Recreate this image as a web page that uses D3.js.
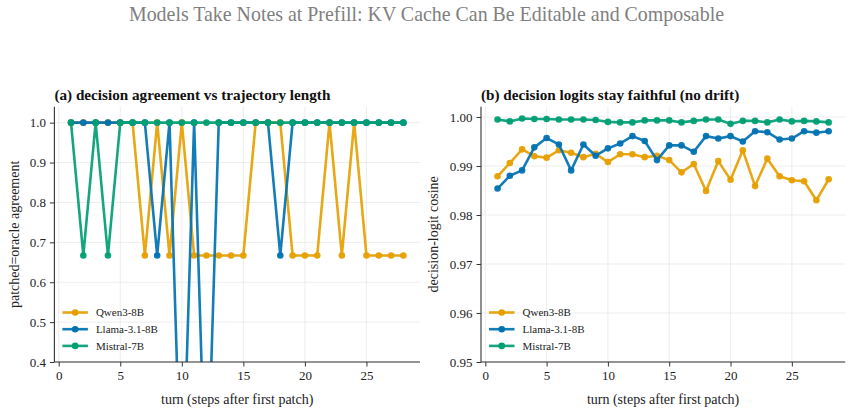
<!DOCTYPE html>
<html>
<head>
<meta charset="utf-8">
<script src="https://cdn.jsdelivr.net/npm/d3@7"></script>
<style>
  body { margin: 0; background: #fff; }
  svg, svg text { font-family: "Liberation Serif", "DejaVu Serif", serif; }
  .tick text { fill: #222; }
</style>
</head>
<body>
<script>
// turns after the first patch
const turns = [1,2,3,4,5,6,7,8,9,10,11,12,13,14,15,16,17,18,19,20,21,22,23,24,25,26,27,28];
const models = ["Qwen3-8B", "Llama-3.1-8B", "Mistral-7B"];
const colors = ["#E69F00", "#0072B2", "#009E73"];

// (a) patched = oracle agreement
const agreeQwen    = [1,1,1,1,1,1,0.667,1,0.667,1,0.667,0.667,0.667,0.667,0.667,1,1,1,0.667,0.667,0.667,1,0.667,1,0.667,0.667,0.667,0.667];
const agreeLlama   = [1,1,1,1,1,1,1,0.667,1,0,1,0,1,1,1,1,1,0.667,1,1,1,1,1,1,1,1,1,1];
const agreeMistral = [1,0.667,1,0.667,1,1,1,1,1,1,1,1,1,1,1,1,1,1,1,1,1,1,1,1,1,1,1,1];

// (b) decision-logit cosine
const cosQwen    = [0.9879,0.9906,0.9934,0.9920,0.9917,0.9932,0.9927,0.9918,0.9925,0.9908,0.9924,0.9924,0.9918,0.9921,0.9912,0.9887,0.9904,0.9849,0.9910,0.9872,0.9932,0.9859,0.9915,0.9879,0.9871,0.9869,0.9830,0.9873];
const cosLlama   = [0.9854,0.9880,0.9891,0.9938,0.9957,0.9944,0.9891,0.9944,0.9921,0.9936,0.9946,0.9961,0.9951,0.9912,0.9942,0.9942,0.9929,0.9961,0.9956,0.9961,0.9950,0.9971,0.9969,0.9954,0.9956,0.9971,0.9968,0.9971];
const cosMistral = [0.9995,0.9991,0.9997,0.9996,0.9996,0.9995,0.9995,0.9995,0.9994,0.9990,0.9989,0.9989,0.9993,0.9993,0.9993,0.9989,0.9992,0.9995,0.9995,0.9986,0.9992,0.9992,0.9989,0.9995,0.9991,0.9992,0.9991,0.9989];

const xTicks = [0,5,10,15,20,25];
const agreeTicks = [0.4,0.5,0.6,0.7,0.8,0.9,1.0];
const cosTicks = [0.95,0.96,0.97,0.98,0.99,1.00];

const serif = "'Liberation Serif', 'DejaVu Serif', serif";
const width = 853, height = 413;
const svg = d3.select("body").append("svg")
    .attr("width", width)
    .attr("height", height);

svg.append("text")
    .attr("x", 426.5)
    .attr("y", 21)
    .attr("text-anchor", "middle")
    .style("font-family", serif)
    .style("font-size", "19.9px")
    .attr("fill", "#808080")
    .text("Models Take Notes at Prefill: KV Cache Can Be Editable and Composable");

function drawPanel(opts) {
    const { left, right, top, bottom, yDomain, yTicks, yFmt, series, title, ylabel, ylabelX, id } = opts;
    const x = d3.scaleLinear().domain([-0.35, 29.35]).range([left, right]);
    const y = d3.scaleLinear().domain(yDomain).range([bottom, top]);
    const g = svg.append("g");

    // grid
    g.append("g").selectAll("line").data(xTicks).join("line")
        .attr("x1", d => x(d)).attr("x2", d => x(d))
        .attr("y1", top).attr("y2", bottom)
        .attr("stroke", "#e8e8e8").attr("stroke-width", 0.8);
    g.append("g").selectAll("line").data(yTicks).join("line")
        .attr("x1", left).attr("x2", right)
        .attr("y1", d => y(d)).attr("y2", d => y(d))
        .attr("stroke", "#e8e8e8").attr("stroke-width", 0.8);

    svg.append("clipPath").attr("id", id)
        .append("rect").attr("x", left).attr("y", top - 4)
        .attr("width", right - left).attr("height", bottom - top + 4);

    const plot = g.append("g").attr("clip-path", `url(#${id})`);
    const line = d3.line().x((d, i) => x(turns[i])).y(d => y(d));

    series.forEach((vals, k) => {
        plot.append("path")
            .datum(vals)
            .attr("fill", "none")
            .attr("stroke", colors[k])
            .attr("stroke-width", 2.6)
            .attr("stroke-linejoin", "round")
            .attr("opacity", 0.92)
            .attr("d", line);
        plot.append("g").selectAll("circle").data(vals).join("circle")
            .attr("cx", (d, i) => x(turns[i]))
            .attr("cy", d => y(d))
            .attr("r", 3.3)
            .attr("fill", colors[k])
            .attr("opacity", 0.95);
    });

    // axes
    const xa = g.append("g")
        .attr("transform", `translate(0,${bottom})`)
        .call(d3.axisBottom(x).tickValues(xTicks).tickSize(4.5).tickPadding(4).tickFormat(d3.format("d")));
    const ya = g.append("g")
        .attr("transform", `translate(${left},0)`)
        .call(d3.axisLeft(y).tickValues(yTicks).tickSize(4.5).tickPadding(4).tickFormat(d3.format(yFmt)));
    [xa, ya].forEach(a => {
        a.attr("font-family", serif);
        a.select(".domain").attr("stroke", "#333").attr("stroke-width", 1.1);
        a.selectAll(".tick line").attr("stroke", "#333").attr("stroke-width", 1);
        a.selectAll(".tick text").style("font-size", "13px").style("font-family", serif);
    });
    ya.select(".domain").attr("d", `M0,${bottom}V${top}`);
    xa.select(".domain").attr("d", `M${left},0H${right}`);

    g.append("text")
        .attr("x", left)
        .attr("y", 100)
        .style("font-family", serif)
        .style("font-size", "15.2px")
        .style("font-weight", "bold")
        .attr("fill", "#111")
        .text(title);

    g.append("text")
        .attr("x", (left + right) / 2)
        .attr("y", 404)
        .attr("text-anchor", "middle")
        .style("font-family", serif)
        .style("font-size", "14px")
        .attr("fill", "#222")
        .text("turn (steps after first patch)");

    g.append("text")
        .attr("transform", `translate(${ylabelX},${(top + bottom) / 2}) rotate(-90)`)
        .attr("text-anchor", "middle")
        .style("font-family", serif)
        .style("font-size", "14px")
        .attr("fill", "#222")
        .text(ylabel);

    // legend
    const lg = g.append("g").attr("transform", `translate(${left + 8},312.5)`);
    models.forEach((m, k) => {
        const row = lg.append("g").attr("transform", `translate(0,${k * 16.7})`);
        row.append("line").attr("x1", 0).attr("x2", 25.5).attr("y1", 0).attr("y2", 0)
            .attr("stroke", colors[k]).attr("stroke-width", 2.6).attr("opacity", 0.92);
        row.append("circle").attr("cx", 12.75).attr("cy", 0).attr("r", 3.3).attr("fill", colors[k]);
        row.append("text").attr("x", 33.5).attr("y", 3.8)
            .style("font-family", serif)
            .style("font-size", "11px").attr("fill", "#222").text(m);
    });
}

drawPanel({
    id: "clipA",
    left: 54.4, right: 420, top: 106.7, bottom: 362,
    yDomain: [0.4, 1.04], yTicks: agreeTicks, yFmt: ".1f",
    series: [agreeQwen, agreeLlama, agreeMistral],
    title: "(a) decision agreement vs trajectory length",
    ylabel: "patched=oracle agreement",
    ylabelX: 19
});

drawPanel({
    id: "clipB",
    left: 481, right: 845.2, top: 106.7, bottom: 362,
    yDomain: [0.95, 1.0021], yTicks: cosTicks, yFmt: ".2f",
    series: [cosQwen, cosLlama, cosMistral],
    title: "(b) decision logits stay faithful (no drift)",
    ylabel: "decision-logit cosine",
    ylabelX: 438
});
</script>
</body>
</html>
